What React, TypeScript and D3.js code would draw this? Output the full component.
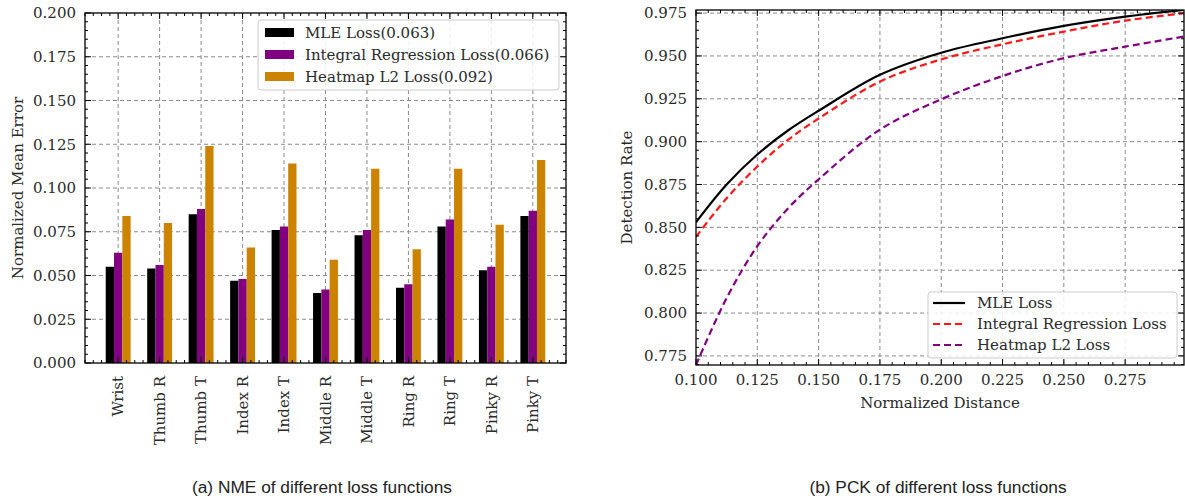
import React from "react";
import * as d3 from "d3";

const joints = ["Wrist", "Thumb R", "Thumb T", "Index R", "Index T", "Middle R", "Middle T", "Ring R", "Ring T", "Pinky R", "Pinky T"];
const mleNME = [0.055, 0.054, 0.085, 0.047, 0.076, 0.040, 0.073, 0.043, 0.078, 0.053, 0.084];
const integralNME = [0.063, 0.056, 0.088, 0.048, 0.078, 0.042, 0.076, 0.045, 0.082, 0.055, 0.087];
const heatmapNME = [0.084, 0.080, 0.124, 0.066, 0.114, 0.059, 0.111, 0.065, 0.111, 0.079, 0.116];
const nmeTicks = [0, 0.025, 0.05, 0.075, 0.1, 0.125, 0.15, 0.175, 0.2];
const barLegend = ["MLE Loss(0.063)", "Integral Regression Loss(0.066)", "Heatmap L2 Loss(0.092)"];

const pckDist = [0.1, 0.1125, 0.125, 0.1375, 0.15, 0.175, 0.2, 0.225, 0.25, 0.275, 0.299];
const mlePCK = [0.853, 0.875, 0.8925, 0.9065, 0.918, 0.939, 0.9519, 0.9603, 0.9675, 0.9729, 0.9768];
const integralPCK = [0.8445, 0.867, 0.8855, 0.901, 0.9135, 0.935, 0.948, 0.9568, 0.9642, 0.9706, 0.9749];
const heatmapPCK = [0.7697, 0.8088, 0.839, 0.861, 0.878, 0.907, 0.9247, 0.9383, 0.9487, 0.9554, 0.9613];
const pckYTicks = [0.775, 0.8, 0.825, 0.85, 0.875, 0.9, 0.925, 0.95, 0.975];
const pckXTicks = [0.1, 0.125, 0.15, 0.175, 0.2, 0.225, 0.25, 0.275];
const lineLegend = ["MLE Loss", "Integral Regression Loss", "Heatmap L2 Loss"];

const SERIF = "'DejaVu Serif', serif";
const SANS = "'Liberation Sans', Arial, sans-serif";
const BAR_COLORS = ["#000000", "#800080", "#cc8400"];
const LINE_COLORS = ["#000000", "#ff1a1a", "#800080"];
const GRID = "#8c8c8c";
const FS = 15;
const TXT = "#2a2a2a";

function range(a: number, b: number, step: number) {
  const out: number[] = [];
  for (let v = a; v <= b + step * 1e-6; v += step) out.push(+v.toFixed(6));
  return out;
}

function BarChart() {
  const L = 85, R = 566, T = 13, B = 363;
  const x = d3.scaleLinear().domain([-0.8, 10.8]).range([L, R]);
  const y = d3.scaleLinear().domain([0, 0.2]).range([B, T]);
  const bw = x(0.2) - x(0);
  const series = [mleNME, integralNME, heatmapNME];
  const offsets = [-0.2, 0, 0.2];
  const yMinor = range(0, 0.2, 0.005);
  const xMinor = range(-0.8, 10.8, 0.2);
  return (
    <g>
      {nmeTicks.slice(1, -1).map((t) => (
        <line key={"gy" + t} x1={L} x2={R} y1={y(t)} y2={y(t)} stroke={GRID} strokeWidth={1} strokeDasharray="4,3" />
      ))}
      {joints.map((_, i) => (
        <line key={"gx" + i} x1={x(i)} x2={x(i)} y1={T} y2={B} stroke={GRID} strokeWidth={1} strokeDasharray="4,3" />
      ))}
      {series.map((s, si) =>
        s.map((v, i) => (
          <rect key={si + "-" + i} x={x(i + offsets[si]) - bw / 2} y={y(v)} width={bw} height={y(0) - y(v)} fill={BAR_COLORS[si]} />
        ))
      )}
      {yMinor.map((t) => {
        const major = nmeTicks.some((m) => Math.abs(m - t) < 1e-6);
        const len = major ? 6 : 3;
        return (
          <g key={"yt" + t}>
            <line x1={L} x2={L + len} y1={y(t)} y2={y(t)} stroke="#000" strokeWidth={1} />
            <line x1={R} x2={R - len} y1={y(t)} y2={y(t)} stroke="#000" strokeWidth={1} />
          </g>
        );
      })}
      {xMinor.map((t, i) => {
        const major = Math.abs(t - Math.round(t)) < 1e-6 && t >= 0 && t <= 10;
        const len = major ? 6 : 3;
        return (
          <g key={"xt" + i}>
            <line x1={x(t)} x2={x(t)} y1={B} y2={B - len} stroke="#000" strokeWidth={1} />
            <line x1={x(t)} x2={x(t)} y1={T} y2={T + len} stroke="#000" strokeWidth={1} />
          </g>
        );
      })}
      <rect x={L} y={T} width={R - L} height={B - T} fill="none" stroke="#000" strokeWidth={1.3} />
      {nmeTicks.map((t) => (
        <text key={"yl" + t} x={L - 9} y={y(t)} dy="0.35em" textAnchor="end" fontFamily={SERIF} fontSize={FS} fill={TXT}>
          {t.toFixed(3)}
        </text>
      ))}
      {joints.map((j, i) => (
        <text key={"xl" + i} transform={`translate(${x(i)},${B + 13}) rotate(-90)`} dy="0.35em" textAnchor="end" fontFamily={SERIF} fontSize={FS} fill={TXT}>
          {j}
        </text>
      ))}
      <text transform={`translate(18,${(T + B) / 2}) rotate(-90)`} dy="0.35em" textAnchor="middle" fontFamily={SERIF} fontSize={FS} fill={TXT}>
        Normalized Mean Error
      </text>
      <rect x={258} y={20} width={301} height={70} rx={3} fill="#fff" fillOpacity={0.85} stroke="#cccccc" strokeWidth={1} />
      {barLegend.map((lab, i) => (
        <g key={"lg" + i}>
          <rect x={265} y={28 + i * 22} width={29} height={9} fill={BAR_COLORS[i]} />
          <text x={305} y={33 + i * 22} dy="0.35em" fontFamily={SERIF} fontSize={FS} fill={TXT}>
            {lab}
          </text>
        </g>
      ))}
      <text x={322} y={487} dy="0.35em" textAnchor="middle" fontFamily={SANS} fontSize={17.3} fill="#222">
        (a) NME of different loss functions
      </text>
    </g>
  );
}

function LineChart() {
  const L = 696, R = 1184, T = 10, B = 365;
  const x = d3.scaleLinear().domain([0.1, 0.299]).range([L, R]);
  const y = d3.scaleLinear().domain([0.7697, 0.9768]).range([B, T]);
  const series = [mlePCK, integralPCK, heatmapPCK];
  const dashes = [undefined, "7,4", "7,4"];
  const line = d3
    .line<number>()
    .x((_, i) => x(pckDist[i]))
    .y((d) => y(d))
    .curve(d3.curveCatmullRom.alpha(0.5));
  const yMinor = range(0.77, 0.975, 0.005);
  const xMinor = range(0.1, 0.295, 0.005);
  return (
    <g>
      <defs>
        <clipPath id="pclip">
          <rect x={L} y={T} width={R - L} height={B - T} />
        </clipPath>
      </defs>
      {pckYTicks.map((t) => (
        <line key={"gy" + t} x1={L} x2={R} y1={y(t)} y2={y(t)} stroke={GRID} strokeWidth={1} strokeDasharray="4,3" />
      ))}
      {pckXTicks.slice(1).map((t) => (
        <line key={"gx" + t} x1={x(t)} x2={x(t)} y1={T} y2={B} stroke={GRID} strokeWidth={1} strokeDasharray="4,3" />
      ))}
      <g clipPath="url(#pclip)">
        {series.map((s, si) => (
          <path key={"ln" + si} d={line(s) || ""} fill="none" stroke={LINE_COLORS[si]} strokeWidth={2.2} strokeDasharray={dashes[si]} />
        ))}
      </g>
      {yMinor.map((t) => {
        const major = pckYTicks.some((m) => Math.abs(m - t) < 1e-6);
        const len = major ? 6 : 3;
        return (
          <g key={"yt" + t}>
            <line x1={L} x2={L + len} y1={y(t)} y2={y(t)} stroke="#000" strokeWidth={1} />
            <line x1={R} x2={R - len} y1={y(t)} y2={y(t)} stroke="#000" strokeWidth={1} />
          </g>
        );
      })}
      {xMinor.map((t) => {
        const major = pckXTicks.some((m) => Math.abs(m - t) < 1e-6);
        const len = major ? 6 : 3;
        return (
          <g key={"xt" + t}>
            <line x1={x(t)} x2={x(t)} y1={B} y2={B - len} stroke="#000" strokeWidth={1} />
            <line x1={x(t)} x2={x(t)} y1={T} y2={T + len} stroke="#000" strokeWidth={1} />
          </g>
        );
      })}
      <rect x={L} y={T} width={R - L} height={B - T} fill="none" stroke="#000" strokeWidth={1.3} />
      {pckYTicks.map((t) => (
        <text key={"yl" + t} x={L - 9} y={y(t)} dy="0.35em" textAnchor="end" fontFamily={SERIF} fontSize={FS} fill={TXT}>
          {t.toFixed(3)}
        </text>
      ))}
      {pckXTicks.map((t) => (
        <text key={"xl" + t} x={x(t)} y={380} dy="0.35em" textAnchor="middle" fontFamily={SERIF} fontSize={FS} fill={TXT}>
          {t.toFixed(3)}
        </text>
      ))}
      <text x={(L + R) / 2} y={403} dy="0.35em" textAnchor="middle" fontFamily={SERIF} fontSize={FS} fill={TXT}>
        Normalized Distance
      </text>
      <text transform={`translate(627,${(T + B) / 2}) rotate(-90)`} dy="0.35em" textAnchor="middle" fontFamily={SERIF} fontSize={FS} fill={TXT}>
        Detection Rate
      </text>
      <rect x={928} y={292} width={249} height={66} rx={3} fill="#fff" fillOpacity={0.85} stroke="#cccccc" strokeWidth={1} />
      {lineLegend.map((lab, i) => (
        <g key={"lg" + i}>
          <line x1={933} x2={965} y1={303 + i * 21} y2={303 + i * 21} stroke={LINE_COLORS[i]} strokeWidth={2.2} strokeDasharray={dashes[i]} />
          <text x={977} y={303 + i * 21} dy="0.35em" fontFamily={SERIF} fontSize={FS} fill={TXT}>
            {lab}
          </text>
        </g>
      ))}
      <text x={938} y={487} dy="0.35em" textAnchor="middle" fontFamily={SANS} fontSize={17.3} fill="#222">
        (b) PCK of different loss functions
      </text>
    </g>
  );
}

export default function App() {
  return (
    <svg width={1185} height={501} style={{ position: "absolute", left: 0, top: 0, background: "#fff" }}>
      <rect width={1185} height={501} fill="#fff" />
      <BarChart />
      <LineChart />
    </svg>
  );
}
